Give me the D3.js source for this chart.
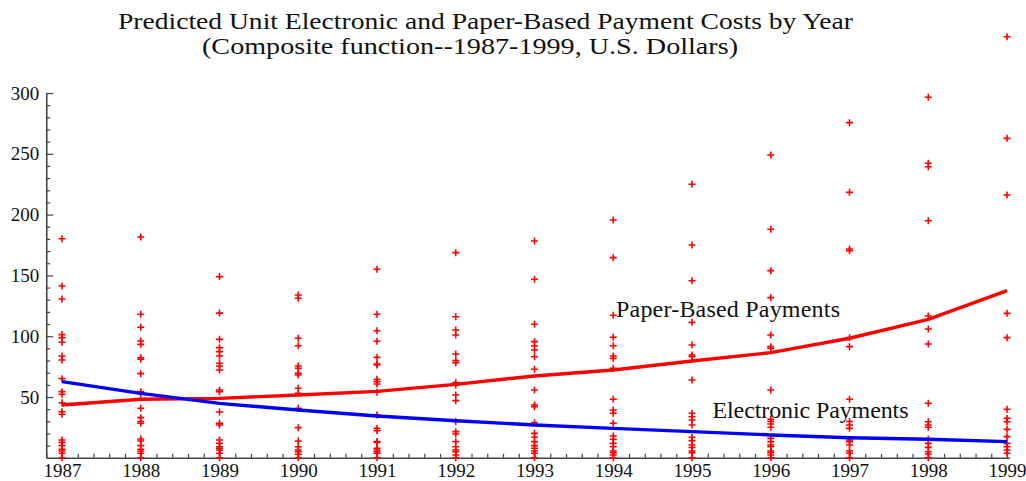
<!DOCTYPE html>
<html>
<head>
<meta charset="utf-8">
<script src="https://cdn.jsdelivr.net/npm/d3@7"></script>
<style>
  html, body { margin: 0; padding: 0; background: #fff; }
  svg { display: block; font-family: "Liberation Serif", "Times New Roman", serif; }
</style>
</head>
<body>
<svg id="chart" width="1026" height="481"></svg>
<script>
// Years on the horizontal axis
const years = [1987, 1988, 1989, 1990, 1991, 1992, 1993, 1994, 1995, 1996, 1997, 1998, 1999];

// Fitted composite-function curves (U.S. dollars per unit)
const paperBased = [43.4, 48.2, 48.9, 51.6, 54.6, 60.4, 67.3, 72.2, 79.6, 86.5, 98.3, 113.9, 137.4];
const electronic = [62.6, 53.0, 44.8, 39.3, 34.4, 30.5, 27.0, 24.2, 21.5, 18.8, 16.5, 15.2, 13.3];

// Observed unit costs for each year
const costs1987 = [180.2, 141.3, 130.6, 101.3, 98.8, 95.0, 83.7, 80.4, 65.1, 54.4, 52.2, 45.3, 37.9, 35.8, 14.6, 12.7, 10.0, 7.0, 5.6, 3.7, 0];
const costs1988 = [181.6, 118.0, 107.3, 96.0, 93.3, 82.3, 81.0, 69.2, 54.4, 52.2, 40.7, 33.0, 29.8, 28.4, 15.5, 13.8, 10.0, 7.0, 5.6, 3.7, 0];
const costs1989 = [149.0, 119.0, 97.4, 90.6, 87.3, 83.7, 77.7, 75.5, 72.2, 55.8, 54.4, 37.7, 28.4, 27.0, 14.6, 11.9, 9.1, 7.8, 6.4, 3.7, 0];
const costs1990 = [133.9, 131.2, 98.3, 92.2, 75.5, 73.6, 69.5, 68.1, 57.2, 53.0, 40.7, 24.8, 13.8, 9.1, 6.4, 5.0, 2.9, 0];
const costs1991 = [155.0, 118.0, 104.5, 95.8, 82.6, 77.1, 76.3, 64.5, 62.6, 60.7, 53.9, 35.2, 24.2, 22.3, 13.3, 12.7, 7.8, 6.4, 5.0, 3.7, 0];
const costs1992 = [168.7, 116.0, 105.1, 101.0, 85.4, 79.9, 78.2, 61.8, 59.9, 51.6, 47.0, 29.8, 21.5, 19.6, 13.3, 9.1, 6.4, 5.0, 2.3, 0];
const costs1993 = [178.3, 146.8, 109.8, 95.5, 92.2, 88.7, 83.1, 72.8, 55.8, 43.4, 42.0, 28.9, 20.1, 16.9, 13.3, 10.0, 7.8, 5.6, 3.7, 0];
const costs1994 = [195.6, 164.6, 117.2, 99.1, 92.2, 83.7, 81.8, 73.6, 48.1, 39.3, 36.6, 28.4, 17.9, 15.2, 11.9, 9.1, 5.6, 4.2, 2.3, 0];
const costs1995 = [224.9, 175.0, 145.6, 111.4, 92.8, 84.5, 83.1, 64.0, 36.6, 33.8, 31.1, 27.0, 16.9, 14.1, 10.5, 8.5, 5.6, 4.2, 0];
const costs1996 = [249.0, 187.9, 153.9, 131.7, 101.0, 91.4, 90.0, 55.8, 31.6, 29.8, 27.8, 25.1, 16.0, 13.3, 10.5, 9.1, 5.6, 4.2, 2.3, 0];
const costs1997 = [275.6, 218.3, 171.7, 170.3, 98.8, 91.4, 48.1, 29.8, 27.0, 24.2, 14.6, 13.3, 10.5, 5.6, 3.7, 0];
const costs1998 = [296.5, 242.2, 239.4, 195.0, 116.6, 105.9, 93.6, 44.8, 29.7, 27.0, 25.1, 15.2, 11.9, 8.6, 5.0, 3.1, 0];
const costs1999 = [346.3, 262.7, 216.1, 118.8, 98.8, 39.9, 32.4, 29.7, 23.4, 17.4, 11.9, 9.1, 6.4, 3.7];

const costsByYear = [costs1987, costs1988, costs1989, costs1990, costs1991, costs1992, costs1993,
                     costs1994, costs1995, costs1996, costs1997, costs1998, costs1999];

// Axis tick labels
const yTickLabels = [50, 100, 150, 200, 250, 300];
const xTickLabels = years;

const titleLines = [
  "Predicted Unit Electronic and Paper-Based Payment Costs by Year",
  "(Composite function--1987-1999, U.S. Dollars)"
];

const svg = d3.select("#chart");

const x = d3.scaleLinear().domain([1986.8, 1999.03]).range([46.25, 1009.4]);
const y = d3.scaleLinear().domain([0, 300]).range([457.8, 93]);

// Title, two centred lines
svg.append("text").attr("x", 118).attr("y", 28.5)
  .attr("font-size", 24).attr("fill", "#111")
  .attr("textLength", 735).attr("lengthAdjust", "spacingAndGlyphs").text(titleLines[0]);
svg.append("text").attr("x", 202).attr("y", 53.5)
  .attr("font-size", 24).attr("fill", "#111")
  .attr("textLength", 536).attr("lengthAdjust", "spacingAndGlyphs").text(titleLines[1]);

// Axes: ticks point into the plot area
const minorY = d3.range(10, 300, 10).filter(v => v % 50 !== 0);
const minorX = d3.range(0, 61).map(i => 1986.8 + i * 0.2).filter(v => Math.abs(v - Math.round(v)) > 0.01 && v < 1999.01);

const yAxis = svg.append("g").attr("transform", `translate(${x(1986.8)},0)`);
yAxis.call(d3.axisLeft(y).tickValues(yTickLabels).tickSizeInner(-7).tickSizeOuter(0).tickPadding(7).tickFormat(d3.format("d")));
yAxis.append("g").call(d3.axisLeft(y).tickValues(minorY).tickSizeInner(-4).tickSizeOuter(0).tickFormat(""))
  .select(".domain").remove();

const xAxis = svg.append("g").attr("transform", `translate(0,${y(0)})`);
xAxis.call(d3.axisBottom(x).tickValues(xTickLabels).tickSizeInner(-7).tickSizeOuter(0).tickPadding(6).tickFormat(d3.format("d")));
xAxis.append("g").call(d3.axisBottom(x).tickValues(minorX).tickSizeInner(-4).tickSizeOuter(0).tickFormat(""))
  .select(".domain").remove();

svg.selectAll(".domain").attr("stroke", "#444").attr("stroke-width", 1.6);
svg.selectAll(".tick line").attr("stroke", "#444").attr("stroke-width", 1.2);
svg.selectAll(".tick text").attr("font-family", "Liberation Serif, Times New Roman, serif")
  .attr("font-size", 19).attr("fill", "#111");

// Observed costs as plus markers
const points = [];
costsByYear.forEach((vals, i) => vals.forEach(v => points.push({ year: years[i], value: v })));
svg.append("g").selectAll("path").data(points).enter().append("path")
  .attr("transform", d => `translate(${x(d.year)},${y(d.value)})`)
  .attr("d", "M-3.5,0H3.5M0,-3.5V3.5")
  .attr("stroke", "#ff0000").attr("stroke-width", 1.6).attr("fill", "none");

// Fitted curves
const line = d3.line().x((d, i) => x(years[i])).y(d => y(d));
svg.append("path").datum(paperBased).attr("d", line)
  .attr("fill", "none").attr("stroke", "#ff0000").attr("stroke-width", 3.4);
svg.append("path").datum(electronic).attr("d", line)
  .attr("fill", "none").attr("stroke", "#0000ff").attr("stroke-width", 3.4);

// Curve labels
svg.append("text").attr("x", 616).attr("y", 316.7).attr("font-size", 24).attr("fill", "#111")
  .attr("textLength", 224).attr("lengthAdjust", "spacing").text("Paper-Based Payments");
svg.append("text").attr("x", 712.5).attr("y", 418.3).attr("font-size", 24).attr("fill", "#111")
  .attr("textLength", 196).attr("lengthAdjust", "spacing").text("Electronic Payments");
</script>
</body>
</html>
